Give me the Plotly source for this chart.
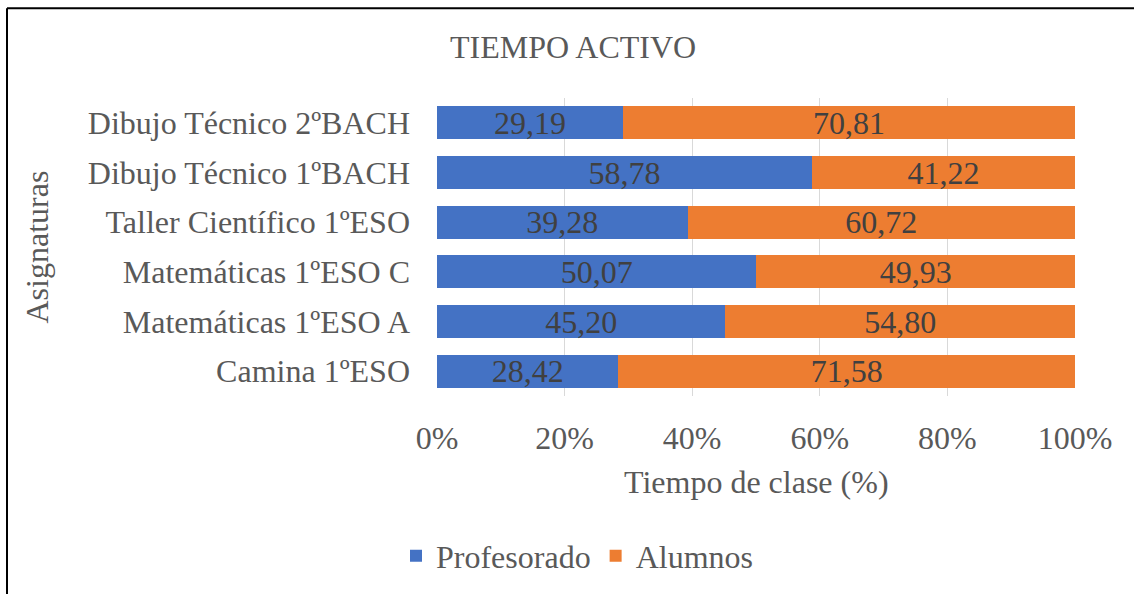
import plotly.graph_objects as go

categories = ["Camina 1ºESO", "Matemáticas 1ºESO A", "Matemáticas 1ºESO C",
              "Taller Científico 1ºESO", "Dibujo Técnico 1ºBACH", "Dibujo Técnico 2ºBACH"]
profesorado = [28.42, 45.20, 50.07, 39.28, 58.78, 29.19]
alumnos = [71.58, 54.80, 49.93, 60.72, 41.22, 70.81]

FONT = "Liberation Serif"
FS = 32

def fmt(v):
    return f"{v:.2f}".replace(".", ",")

fig = go.Figure()
fig.add_trace(go.Bar(y=categories, x=profesorado, name="Profesorado", orientation="h",
                     marker=dict(color="#4472C4", line=dict(width=0)),
                     text=[fmt(v) for v in profesorado], textposition="inside",
                     insidetextanchor="middle", textangle=0,
                     textfont=dict(family=FONT, size=FS, color="#404040")))
fig.add_trace(go.Bar(y=categories, x=alumnos, name="Alumnos", orientation="h",
                     marker=dict(color="#ED7D31", line=dict(width=0)),
                     text=[fmt(v) for v in alumnos], textposition="inside",
                     insidetextanchor="middle", textangle=0,
                     textfont=dict(family=FONT, size=FS, color="#404040")))

W, H = 1134, 594
L, R, T, B = 437, 1075, 98, 397
pw, ph = R - L, B - T

def px(x):
    return (x - L) / pw

def py(y):
    return (B - y) / ph

fig.update_layout(
    width=W, height=H, barmode="stack", bargap=0.34,
    margin=dict(l=L, r=W - R, t=T, b=H - B, pad=0),
    paper_bgcolor="white", plot_bgcolor="white",
    font=dict(family=FONT, size=FS, color="#595959"),
    uniformtext=dict(minsize=FS, mode="show"),
    showlegend=True,
    legend=dict(orientation="h", x=px(577), xanchor="center", y=py(556), yanchor="middle",
                font=dict(family=FONT, size=FS, color="#595959"),
                itemwidth=30, traceorder="normal", bgcolor="rgba(0,0,0,0)"),
    xaxis=dict(range=[0, 100], dtick=20, ticksuffix="%", showgrid=True,
               gridcolor="#D9D9D9", gridwidth=1, zeroline=False, showline=False,
               ticks="", ticklabelstandoff=20,
               tickfont=dict(family=FONT, size=FS, color="#595959"), fixedrange=True),
    yaxis=dict(categoryorder="array", categoryarray=categories, showgrid=False,
               showline=False, ticks="", ticklabelstandoff=26, zeroline=False,
               tickfont=dict(family=FONT, size=FS, color="#595959")),
    annotations=[
        dict(text="TIEMPO ACTIVO", xref="paper", yref="paper", x=px(573), y=py(47),
             xanchor="center", yanchor="middle", showarrow=False,
             font=dict(family=FONT, size=FS, color="#595959")),
        dict(text="Tiempo de clase (%)", xref="paper", yref="paper", x=px(756), y=py(483),
             xanchor="center", yanchor="middle", showarrow=False,
             font=dict(family=FONT, size=FS, color="#595959")),
        dict(text="Asignaturas", xref="paper", yref="paper", x=px(37), y=py(247),
             xanchor="center", yanchor="middle", showarrow=False, textangle=-90,
             font=dict(family=FONT, size=FS, color="#595959")),
    ],
    shapes=[
        dict(type="line", xref="paper", yref="paper", x0=px(7), x1=px(1150), y0=py(8), y1=py(8),
             line=dict(color="#000000", width=2)),
        dict(type="line", xref="paper", yref="paper", x0=px(7), x1=px(7), y0=py(8), y1=py(610),
             line=dict(color="#000000", width=2)),
    ],
)

fig.write_html("out.html", config={"displayModeBar": False},
               post_script="document.body.style.margin='0';document.body.style.overflow='hidden';")
